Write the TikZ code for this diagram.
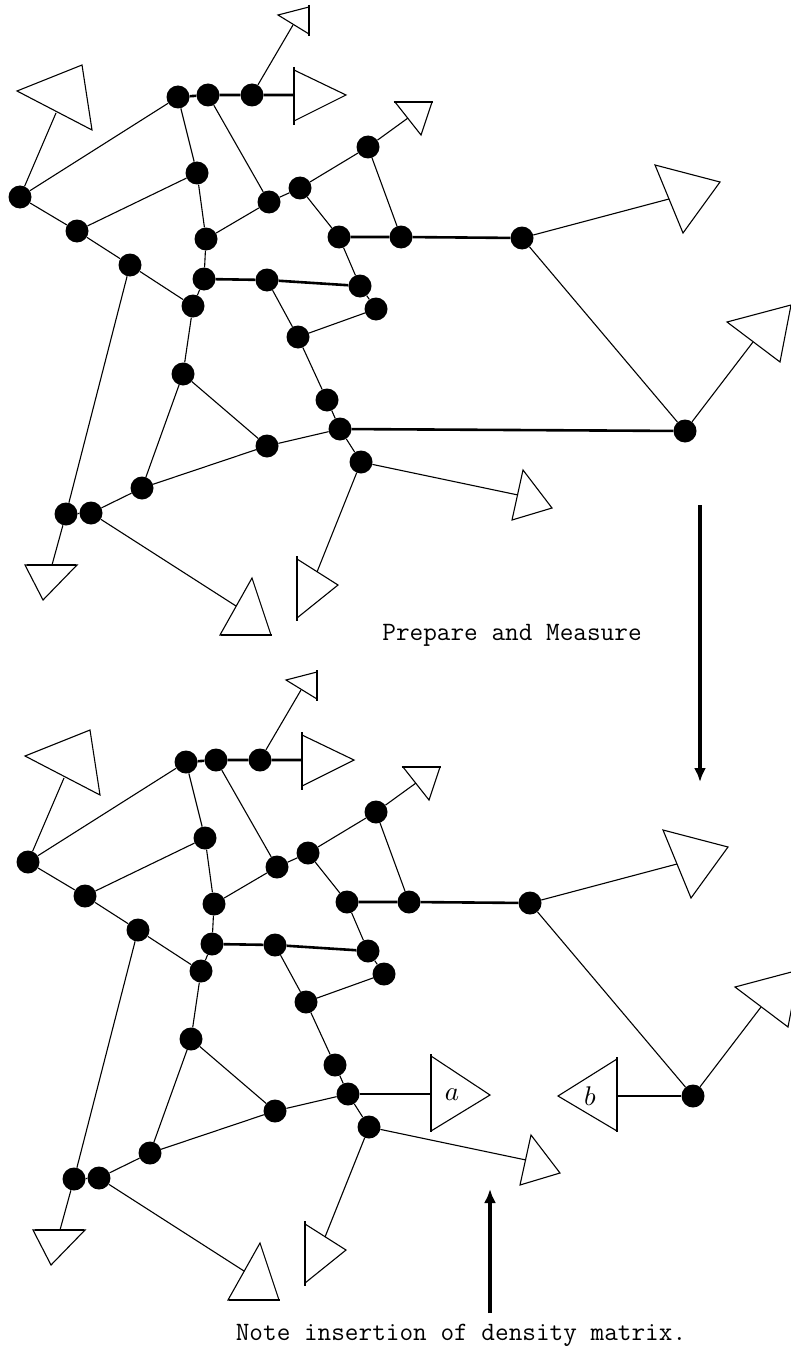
\documentclass[tikz,border=0pt]{standalone}
\usetikzlibrary{arrows.meta}
\tikzset{ v/.style = { circle
                       , fill         = black
                       , draw         = none
                       , inner sep    = 0pt
                       , minimum size = 23pt
                       },
          ln/.style = { draw = black, line width = 1.1pt },
          tk/.style = { draw = black, line width = 2.6pt },
          bar/.style = { draw = black, line width = 2.6pt },
          tri/.style = { draw = black, line width = 1.1pt },
          arr/.style = { draw = black, line width = 4.8pt
                       , -{Latex[length=14pt, width=12pt]}
                       },
          txt/.style = { font = \fontsize{26.5}{30}\selectfont\ttfamily
                       , inner sep = 0pt, anchor = base
                       },
          lab/.style = { scale = 2.7, inner sep = 0pt }
        }

% the graph state, drawn once per panel
\newcommand{\network}{%
  \node[v] (v1)  at (178,97)  {};
  \node[v] (v2)  at (208,95)  {};
  \node[v] (v3)  at (252,95)  {};
  \node[v] (v4)  at (20,197)  {};
  \node[v] (v5)  at (77,231)  {};
  \node[v] (v6)  at (130,265) {};
  \node[v] (v7)  at (193,306) {};
  \node[v] (v8)  at (197,173) {};
  \node[v] (v9)  at (206,239) {};
  \node[v] (v10) at (204,279) {};
  \node[v] (v11) at (267,280) {};
  \node[v] (v12) at (360,286) {};
  \node[v] (v13) at (376,309) {};
  \node[v] (v14) at (269,202) {};
  \node[v] (v15) at (300,188) {};
  \node[v] (v16) at (368,147) {};
  \node[v] (v17) at (339,237) {};
  \node[v] (v18) at (401,237) {};
  \node[v] (v19) at (522,238) {};
  \node[v] (v20) at (685,431) {};
  \node[v] (v21) at (183,374) {};
  \node[v] (v22) at (298,337) {};
  \node[v] (v23) at (327,400) {};
  \node[v] (v24) at (340,429) {};
  \node[v] (v25) at (361,462) {};
  \node[v] (v26) at (267,446) {};
  \node[v] (v27) at (142,488) {};
  \node[v] (v28) at (66,514)  {};
  \node[v] (v29) at (91,513)  {};
  % measurement triangles
  \draw[tri] (17,91) -- (82,65) -- (92,130) -- cycle;
  \coordinate (c1) at (56,113);
  \draw[tri] (278,15) -- (309,7) -- (309,34) -- cycle;
  \draw[bar] (309,5) -- (309,36);
  \coordinate (c2) at (293,25);
  \draw[tri] (294,70) -- (346,95) -- (294,121) -- cycle;
  \draw[bar] (294,67) -- (294,125);
  \coordinate (c3) at (294,95);
  \draw[tri] (395,102) -- (432,102) -- (421,135) -- cycle;
  \draw[bar] (394,102) -- (433,102);
  \coordinate (c4) at (408,118);
  \draw[tri] (655,165) -- (720,182) -- (683,233) -- cycle;
  \coordinate (c5) at (669,199);
  \draw[tri] (727,322) -- (791,305) -- (780,362) -- cycle;
  \coordinate (c6) at (753,342);
  \draw[tri] (25,565) -- (77,565) -- (43,600) -- cycle;
  \draw[bar] (27,565) -- (76,565);
  \coordinate (c7) at (52,565);
  \draw[tri] (252,578) -- (271,635) -- (220,635) -- cycle;
  \draw[bar] (221,635) -- (272,635);
  \coordinate (c8) at (236,606);
  \draw[tri] (297,559) -- (338,585) -- (297,618) -- cycle;
  \draw[bar] (297,556) -- (297,621);
  \coordinate (c9) at (317,572);
  \draw[tri] (523,470) -- (552,508) -- (512,520) -- cycle;
  \coordinate (c10) at (518,495);
  % bonds
  \draw[tk] (v1) -- (v2) -- (v3) -- (c3);
  \draw[tk] (v17) -- (v18) -- (v19);
  \draw[tk] (v10) -- (v11) -- (v12);
  \draw[ln] (v3) -- (c2);
  \draw[ln] (v1) -- (v4);
  \draw[ln] (v4) -- (c1);
  \draw[ln] (v4) -- (v5) -- (v6) -- (v7);
  \draw[ln] (v5) -- (v8);
  \draw[ln] (v1) -- (v8) -- (v9) -- (v10) -- (v7);
  \draw[ln] (v2) -- (v14);
  \draw[ln] (v9) -- (v14) -- (v15) -- (v16) -- (c4);
  \draw[ln] (v15) -- (v17) -- (v12) -- (v13) -- (v22);
  \draw[ln] (v16) -- (v18);
  \draw[ln] (v11) -- (v22) -- (v23) -- (v24) -- (v25);
  \draw[ln] (v7) -- (v21) -- (v27) -- (v29) -- (v28);
  \draw[ln] (v21) -- (v26) -- (v24);
  \draw[ln] (v27) -- (v26);
  \draw[ln] (v6) -- (v28) -- (c7);
  \draw[ln] (v29) -- (c8);
  \draw[ln] (v25) -- (c9);
  \draw[ln] (v25) -- (c10);
  \draw[ln] (v19) -- (c5);
  \draw[ln] (v19) -- (v20) -- (c6);
}

\begin{document}
\begin{tikzpicture}[x=1pt, y=-1pt]
  \useasboundingbox (0,0) rectangle (791,1351);
  \begin{scope}
    \network
    \draw[tk] (v24) -- (v20);
  \end{scope}
  \begin{scope}[shift={(8,665)}]
    \network
    \draw[tri] (423,391) -- (482,430) -- (423,466) -- cycle;
    \draw[bar] (423,389) -- (423,467);
    \coordinate (ca) at (423,429);
    \node[lab] (la) at (444,430) {$a$};
    \draw[tri] (609,394) -- (550,431) -- (609,466) -- cycle;
    \draw[bar] (609,392) -- (609,467);
    \coordinate (cb) at (609,431);
    \node[lab] (lb) at (582,431) {$b$};
    \draw[tk] (v24) -- (ca);
    \draw[tk] (cb) -- (v20);
  \end{scope}
  % arrows and captions
  \coordinate (d1) at (700,505);
  \coordinate (d2) at (700,782);
  \draw[arr] (d1) -- (d2);
  \node[txt] (prep) at (512,640) {Prepare and Measure};
  \coordinate (u1) at (490,1313);
  \coordinate (u2) at (490,1189);
  \draw[arr] (u1) -- (u2);
  \node[txt] (note) at (461,1340) {Note insertion of density matrix.};
\end{tikzpicture}
\end{document}
